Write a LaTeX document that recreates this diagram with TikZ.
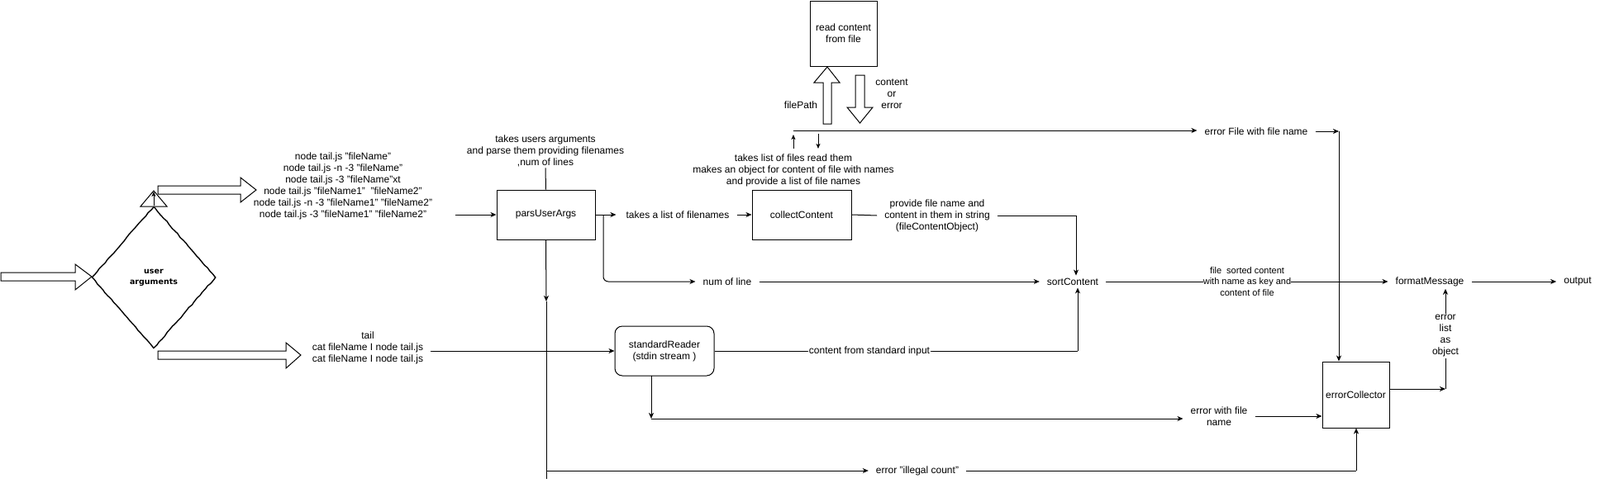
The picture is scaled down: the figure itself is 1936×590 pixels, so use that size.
\documentclass[tikz,border=0pt]{standalone}
\usepackage{fontspec}
\setmainfont{Liberation Sans}
\newfontfamily\comicfont{DejaVu Sans}
\usetikzlibrary{arrows.meta,shapes.geometric,decorations.pathmorphing}
\begin{document}
\begin{tikzpicture}[x=1pt,y=-1pt,
  txt/.style={align=center,font=\fontsize{12}{14}\selectfont,inner sep=1pt},
  ft/.style={align=center,font=\fontsize{12}{14}\selectfont,inner xsep=9pt,inner ysep=3pt},
  box/.style={draw,line width=1pt,align=center,font=\fontsize{12}{14}\selectfont,inner sep=0pt},
  arr/.style={line width=1pt,-{Stealth[length=7pt,width=6pt,inset=2pt]}},
  sarr/.style={line width=1pt,-{Stealth[length=6pt,width=5pt,inset=1.5pt]}},
  ln/.style={line width=1pt},
  blk/.style={draw,line width=1pt,fill=white,line join=miter},
  onln/.style={fill=white,inner sep=0pt,align=center}]
\useasboundingbox (0,0) rectangle (1936,590);

% ---------------- block arrows and decision ----------------
\draw[blk] (1,330) -- (91,330) -- (91,320) -- (111,335) -- (91,351) -- (91,340) -- (1,340) -- cycle;
\node[diamond,draw,line width=1.4pt,minimum width=150pt,minimum height=172pt,inner sep=0pt,
      decorate,decoration={random steps,segment length=5pt,amplitude=0.5pt},
      align=center,font=\comicfont\bfseries\fontsize{9.5}{13}\selectfont] (ua) at (186,336) {user\\arguments};
\draw[blk] (170,250) -- (186,231) -- (202,250) -- cycle;
\coordinate (uatip) at (186,232);
\draw[sarr] (ua.north) -- (uatip);
\draw[blk] (191,225) -- (291,225) -- (291,215) -- (310,230) -- (291,245) -- (291,235) -- (191,235) -- cycle;
\draw[blk] (191,425) -- (346,425) -- (346,415) -- (364,430) -- (346,446) -- (346,435) -- (191,435) -- cycle;

% ---------------- command texts ----------------
\node[txt] (t1) at (415,225) {node tail.js "fileName"\\node tail.js -n -3 "fileName"\\node tail.js -3 "fileName"xt\\node tail.js "fileName1"\ \ "fileName2"\\node tail.js -n -3 "fileName1" "fileName2"\\node tail.js -3 "fileName1" "fileName2"};
\node[ft] (t2) at (445,421) {tail\\cat fileName I node tail.js\\cat fileName I node tail.js};

% ---------------- boxes ----------------
\node[box,minimum width=119pt,minimum height=60pt] (pars) at (660.5,260) {parsUserArgs};
\node[box,minimum width=120pt,minimum height=60pt] (collect) at (970,260) {collectContent};
\node[box,minimum width=81pt,minimum height=79pt] (read) at (1020.5,40.5) {read content\\from file};
\node[box,rounded corners=9pt,minimum width=120pt,minimum height=60pt] (stdr) at (804,425) {standardReader\\(stdin stream )};
\node[box,minimum width=81pt,minimum height=80pt] (errc) at (1640.5,478) {errorCollector};

% ---------------- labels ----------------
\node[txt] (plbl) at (660,183) {takes users arguments\\and parse them providing filenames\\,num of lines};
\node[txt] (clbl) at (960,206) {takes list of files read them\\makes an object for content of file with names\\and provide a list of file names};
\node[ft] (tlist) at (820,260) {takes a list of filenames};
\node[ft] (prov) at (1134,261) {provide file name and\\content in them in string\\(fileContentObject)};
\node[ft] (numl) at (880,341) {num of line};
\node[ft] (sortc) at (1298,341) {sortContent};
\node[ft] (fmt) at (1730,341) {formatMessage};
\node[ft] (outp) at (1909,341) {output};
\node[ft] (errfile) at (1520,159) {error File with file name};
\node[ft] (errfn) at (1475,504) {error with file\\name};
\node[ft] (illegal) at (1110,570) {error "illegal count"};
\node[txt] (fpath) at (969,127) {filePath};
\node[txt] (coe) at (1079,114) {content\\or\\error};

% ---------------- read file block arrows ----------------
\draw[blk] (996,150) -- (996,100) -- (985,100) -- (1001,81) -- (1016,100) -- (1006,100) -- (1006,150) -- cycle;
\draw[blk] (1035,91) -- (1046,91) -- (1046,130) -- (1056,130) -- (1040.5,149) -- (1025,130) -- (1035,130) -- cycle;

% ---------------- connectors ----------------
\coordinate (a1) at (551,260);
\draw[arr] (a1) -- (pars.west);
\draw[ln] (plbl.south) -- (pars.north);
\draw[arr] (pars.east) -- ([xshift=-3pt]tlist.west);
\draw[arr] (tlist.east) -- (collect.west);
\coordinate (br) at (730,260);
\coordinate (brc) at (730,341);
\draw[arr,rounded corners=6pt] (br) -- (brc) -- (numl.west);
\draw[arr] (numl.east) -- (sortc.west);

\draw[ln] (collect.east) -- (prov.west);
\coordinate (pc) at (1302,261);
\draw[ln] (prov.east) -- (pc);
\draw[arr] (pc) -- (pc |- sortc.north);

\coordinate (topl) at (960,158);
\draw[arr] (topl) -- (topl -| errfile.west);
\coordinate (ua1) at (960,180);
\coordinate (ua2) at (960,163);
\draw[sarr] (ua1) -- (ua2);
\coordinate (da1) at (990,162);
\coordinate (da2) at (990,180);
\draw[sarr] (da1) -- (da2);

\coordinate (ec) at (1620,159);
\draw[arr] (errfile.east) -- (ec);
\draw[arr] (ec) -- (ec |- errc.north);

\draw[arr] (sortc.east) -- (fmt.west);
\node[onln,font=\fontsize{11}{13.5}\selectfont] (sorted) at (1509,341) {file\ \ sorted content\\with name as key and\\content of file};
\draw[arr] (fmt.east) -- (outp.west);

\draw[arr] (t2.east |- stdr.west) -- (stdr.west);
\coordinate (sc) at (1304,425);
\draw[ln] (stdr.east) -- (sc);
\draw[arr] (sc) -- (sc |- sortc.south);
\node[onln,inner xsep=1pt,font=\fontsize{12}{14}\selectfont] (cfs) at (1052,425) {content from standard input};

\coordinate (sd0) at (788,455);
\coordinate (sd) at (788,507);
\draw[arr] (sd0) -- (sd);
\draw[arr] (sd) -- (sd -| errfn.west);
\draw[arr] (errfn.east) -- (errfn.east -| errc.west);

\coordinate (pd) at (661,365);
\draw[arr] (pars.south) -- (pd);
\coordinate (pb) at (661,580);
\draw[ln] (pd) -- (pb);
\coordinate (pi) at (661,570);
\draw[arr] (pi) -- (pi -| illegal.west);
\coordinate (ic) at (1641,570);
\draw[ln] (illegal.east) -- (ic);
\draw[arr] (ic) -- (ic |- errc.south);

\coordinate (el) at (1749,471);
\draw[arr] (errc.east |- el) -- (el);
\draw[arr] (el) -- (el |- fmt.south);
\node[onln,inner ysep=2pt,font=\fontsize{12}{14}\selectfont] (errlist) at (1749,407) {error\\list\\as\\object};
\end{tikzpicture}
\end{document}
